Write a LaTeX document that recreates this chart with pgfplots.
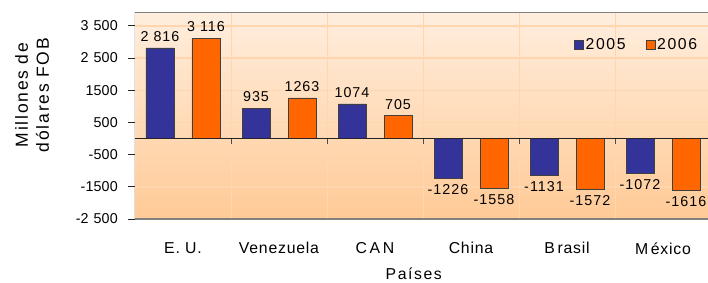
\documentclass[border=0pt]{standalone}
\usepackage{fontspec}
\setmainfont{Liberation Sans}
\newfontfamily\tickfam[LetterSpace=1]{Liberation Sans}
\newfontfamily\numfam[LetterSpace=7]{Liberation Sans}
\newfontfamily\labfam[LetterSpace=10]{Liberation Sans}
\newfontfamily\catfam[LetterSpace=5]{Liberation Sans}
\newcommand\tl[1]{\mbox{\tickfam\fontsize{14.3}{16}\selectfont #1}}
\newcommand\tsp{\hspace{5pt}}
\usepackage{pgfplots}
\pgfplotsset{compat=1.18}
\definecolor{cblue}{HTML}{333399}
\definecolor{corange}{HTML}{FF6600}
\definecolor{bgtop}{HTML}{FFEEDE}
\definecolor{bgbot}{HTML}{FFCA96}
\definecolor{gridc}{HTML}{FFD6AE}
\begin{document}
\begin{tikzpicture}
\begin{axis}[
  scale only axis, width=576pt, height=207pt,
  xmin=-0.5, xmax=5.5, ymin=-2500, ymax=3930,
  ybar=18pt, bar width=28pt,
  axis line style={draw=none},
  xtick={0,1,2,3,4,5},
  xticklabels={E.\,\,U., Venezuela, C\,A\,N, China, B\,rasil, M\,éxico},
  major x tick style={draw=none},
  minor xtick={0.5,1.5,2.5,3.5,4.5},
  xminorgrids, minor x grid style={gridc, line width=1pt},
  minor x tick style={draw=none},
  ytick={-2500,-1500,-500,500,1500,2500,3500},
  yticklabels={\tl{-2\tsp500},\tl{-1500},\tl{-500},\tl{500},\tl{1500},\tl{2\tsp500},\tl{3\tsp500}},
  ymajorgrids, major y grid style={gridc, line width=1.4pt},
  y tick style={black!85, line width=0.8pt},
  tick align=outside, major tick length=7pt,
  axis background/.style={top color=bgtop, bottom color=bgbot},
  yticklabel style={inner sep=0pt, xshift=-10pt},
  xticklabel style={font=\catfam\fontsize{15.8}{18}\selectfont, yshift=-13pt},
  ylabel={Millones de\\dólares FOB},
  ylabel style={font=\labfam\fontsize{17.5}{21}\selectfont, align=center, at={(axis description cs:-0.1788,0.599)}, anchor=center},
  xlabel={Países},
  xlabel style={font=\labfam\fontsize{15.8}{18}\selectfont, at={(axis description cs:0.484,0)}, anchor=center, yshift=-55pt},
  nodes near coords, point meta=explicit symbolic,
  visualization depends on={rawy \as \rawy},
  nodes near coords style={font=\numfam\fontsize{14.3}{16}\selectfont, black,
    /utils/exec={\ifdim\rawy pt<0pt \gdef\myanc{north}\gdef\mysh{-2.5pt}\else\gdef\myanc{south}\gdef\mysh{3pt}\fi},
    anchor=\myanc, yshift=\mysh},
  legend columns=2,
  legend style={draw=none, fill=none, font=\labfam\fontsize{15.8}{18}\selectfont,
    at={(axis description cs:0.762,0.84)}, anchor=west, inner sep=0pt,
    /tikz/every even column/.append style={column sep=18pt}},
  legend image code/.code={\draw[#1, draw=black!75, line width=0.6pt] (0pt,-4.5pt) rectangle (9pt,4.5pt);},
]
\addplot[fill=cblue, draw=black!75, line width=0.7pt] coordinates {
  (0,2816) [2 816] (1,935) [935] (2,1074) [1074] (3,-1226) [-1226] (4,-1131) [-1131] (5,-1072) [-1072]};
\addplot[fill=corange, draw=black!75, line width=0.7pt] coordinates {
  (0,3116) [3 116] (1,1263) [1263] (2,705) [705] (3,-1558) [-1558] (4,-1572) [-1572] (5,-1616) [-1616]};
\legend{2005,2006}
\draw[black!85, line width=1.2pt] (axis cs:-0.5,0) -- (axis cs:5.5,0);
\pgfplotsinvokeforeach{0.5,1.5,2.5,3.5,4.5}{\draw[black!70, line width=0.8pt] (axis cs:#1,0) -- ([yshift=-5pt]axis cs:#1,0);}
\draw[black!50, line width=1.8pt] (rel axis cs:0,1) -- (rel axis cs:1,1);
\draw[black!50, line width=1.8pt] (rel axis cs:0,0) -- (rel axis cs:1,0);
\draw[black!85, line width=1pt] (rel axis cs:0,0) -- (rel axis cs:0,1);
\end{axis}
\pgfresetboundingbox
\path[use as bounding box] (-135pt,-63pt) rectangle (573pt,219pt);
\end{tikzpicture}
\end{document}
